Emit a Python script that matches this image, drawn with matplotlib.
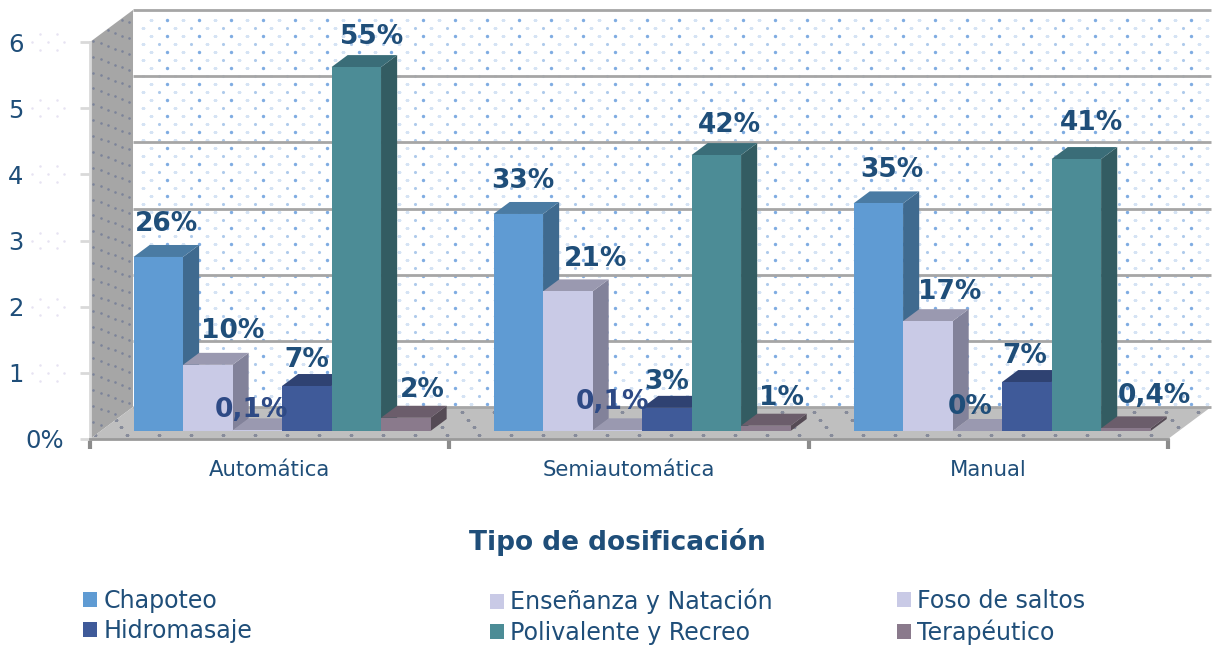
import numpy as np
import matplotlib
matplotlib.use('Agg')
import matplotlib.pyplot as plt
from matplotlib.patches import Polygon, Patch
from matplotlib.transforms import ScaledTranslation

# -----------------------------------------------
# -                    DATA                     -
# -----------------------------------------------
categories = ['Automática', 'Semiautomática', 'Manual']
series = ['Chapoteo', 'Enseñanza y Natación', 'Foso de saltos',
          'Hidromasaje', 'Polivalente y Recreo', 'Terapéutico']

chapoteo = [2.63, 3.28, 3.44]
ensenanza = [1.0, 2.11, 1.66]
foso = [0.01, 0.01, 0.0]
hidromasaje = [0.68, 0.35, 0.74]
polivalente = [5.5, 4.17, 4.11]
terapeutico = [0.2, 0.08, 0.04]
values = [chapoteo, ensenanza, foso, hidromasaje, polivalente, terapeutico]

labels = [['26%', '33%', '35%'], ['10%', '21%', '17%'], ['0,1%', '0,1%', '0%'],
          ['7%', '3%', '7%'], ['55%', '42%', '41%'], ['2%', '1%', '0,4%']]

ytick_labels = ['0%', '1', '2', '3', '4', '5', '6']

# -----------------------------------------------
# -                    STYLE                    -
# -----------------------------------------------
front = ['#5F9BD3', '#C9CAE6', '#C9CAE6', '#3F5A99', '#4C8C96', '#8A7A8C']
top = ['#4A7BA3', '#9A99B0', '#9A99B0', '#2F4272', '#3A6D78', '#6B5D6B']
side = ['#3F6A8F', '#82829A', '#82829A', '#2F4272', '#335C62', '#554B55']
text_col = '#1F4E79'

# label offsets from the bar's front top centre, in pixels
off_x = [[8, 5, 13], [25, 28, 22], [-6, -5, -7], [0, 0, -2], [15, 13, 15], [17, 16, 29]]
off_y = [[33, 33, 33], [34, 32, 29], [20, 28, 24], [26, 26, 26], [30, 30, 36], [28, 28, 32]]

PX_X = 359.3   # pixels per category
PX_Y = 66.2    # pixels per axis unit
DX = 43 / PX_X  # full depth of the floor
DY = 32 / PX_Y
D0, D1 = 0.25, 0.625  # bars depth span
BAR_W = 49.5 / PX_X
START = 32.75 / PX_X
STEP = 360 / PX_X  # distance between bar groups


def px_x(p):
    return (p - 90) / PX_X


def px_y(p):
    return (439 - p) / PX_Y


# -----------------------------------------------
# -                    PLOT                     -
# -----------------------------------------------
fig = plt.figure(figsize=(12.12, 6.45), dpi=100)
ax = fig.add_axes([90 / 1212, (645 - 439) / 645, 1078 / 1212, 397 / 645])
ax.set_xlim(0, 3)
ax.set_ylim(0, 6)
ax.patch.set_alpha(0)

# walls and floor
back = Polygon([(DX, DY), (3 + DX, DY), (3 + DX, 6 + DY), (DX, 6 + DY)], fc='white', ec='none', zorder=1, clip_on=False)
left = Polygon([(0, 0), (DX, DY), (DX, 6 + DY), (0, 6)], fc='#A6A6A6', ec='none', zorder=1, clip_on=False)
floor = Polygon([(0, 0), (3, 0), (3 + DX, DY), (DX, DY)], fc='#BFBFBF', ec='none', zorder=1, clip_on=False)
for p in (back, left, floor):
    ax.add_patch(p)

# dotted texture on the back wall
rows_a = px_y(np.arange(20, 432, 16))
rows_b = px_y(np.arange(28, 432, 16))
for art_x, art_y, col, sz, mk in [
    (px_x(np.arange(167, 1212, 32)), rows_a, '#7FACE2', 6, 'o'),
    (px_x(np.arange(151, 1212, 32)), rows_a, '#D5E3F4', 8, '_'),
    (px_x(np.arange(143, 1212, 32)), rows_b, '#D5E3F4', 8, '_'),
    (px_x(np.arange(159, 1212, 32)), rows_b, '#AECAEB', 5, 'o'),
]:
    xx, yy = np.meshgrid(art_x, art_y)
    d = ax.scatter(xx.ravel(), yy.ravel(), s=sz, c=col, marker=mk, linewidths=0.8 if mk == '_' else 0,
                   zorder=1.5, clip_on=True)
    d.set_clip_path(back)

# left wall dots follow its slant
wx, wy = np.meshgrid(np.arange(0.08, 1.0, 0.165), np.arange(-0.5, 6.5, 0.24))
wy = wy + (np.arange(wx.shape[1]) % 2) * 0.12
d = ax.scatter(wx.ravel() * DX, wy.ravel() + wx.ravel() * DY, s=3.5, c='#7C8499', linewidths=0, zorder=1.5, clip_on=True)
d.set_clip_path(left)

# floor dots
fx, fy = np.meshgrid(np.arange(0.0, 3.3, 32 / PX_X), np.arange(0.12, 1.0, 0.24))
fx = fx + fy * DX + (np.arange(fx.shape[0])[:, None] % 2) * 16 / PX_X
d = ax.scatter(fx.ravel(), fy.ravel() * DY, s=6, c='#868B9A', marker='_', linewidths=0.8, zorder=1.5, clip_on=True)
d.set_clip_path(floor)

# gridlines on the back wall
for v in range(7):
    ax.plot([DX, 3 + DX], [v + DY, v + DY], color='#A6A6A6', lw=2, zorder=1.8, clip_on=False, solid_capstyle='butt')

# bars
z = 3
for c in range(len(categories)):
    for s in range(len(series)):
        v = values[s][c]
        x0 = c * STEP + START + s * BAR_W + D0 * DX
        x1 = x0 + BAR_W
        base = D0 * DY
        ddx = (D1 - D0) * DX
        ddy = (D1 - D0) * DY
        ax.bar(x0, v, BAR_W, bottom=base, align='edge', color=front[s], linewidth=0, zorder=z + 2, clip_on=False)
        ax.add_patch(Polygon([(x1, base), (x1 + ddx, base + ddy), (x1 + ddx, base + v + ddy), (x1, base + v)],
                             fc=side[s], ec='none', zorder=z, clip_on=False))
        ax.add_patch(Polygon([(x0, base + v), (x1, base + v), (x1 + ddx, base + v + ddy), (x0 + ddx, base + v + ddy)],
                             fc=top[s], ec='none', zorder=z + 1, clip_on=False))
        z += 3

# value labels go above everything
for c in range(len(categories)):
    for s in range(len(series)):
        v = values[s][c]
        x0 = c * STEP + START + s * BAR_W + D0 * DX
        col = '#2E4A85' if labels[s][c] == '0,1%' else text_col
        ax.annotate(labels[s][c], (x0 + BAR_W / 2, v + D0 * DY),
                    xytext=(off_x[s][c], off_y[s][c]), textcoords='offset pixels',
                    ha='center', va='center', fontsize=19, fontweight='bold', color=col,
                    zorder=200, annotation_clip=False)

# axes
for name in ('top', 'right'):
    ax.spines[name].set_visible(False)
ax.spines['left'].set_color('#D9D9D9')
ax.spines['left'].set_linewidth(2)
ax.spines['bottom'].set_color('#9A9A9A')
ax.spines['bottom'].set_linewidth(2)
ax.spines['left'].set_zorder(1.9)
ax.spines['bottom'].set_zorder(1.9)

ax.set_yticks(range(7))
ax.set_yticklabels(ytick_labels, fontsize=17.5, color=text_col)
ax.tick_params(axis='y', length=7, width=2, color='#D9D9D9', pad=12)
for t, lab in zip(ax.get_yticklabels(), ytick_labels):
    if lab != '0%':
        t.set_transform(t.get_transform() + ScaledTranslation(-0.40, 0.0, fig.dpi_scale_trans))

ax.set_xticks(range(4))
ax.set_xticklabels([])
ax.tick_params(axis='x', which='major', length=7, width=3, color='#8C8C8C')
ax.set_xticks(np.arange(3) + 0.5, minor=True)
ax.set_xticklabels(categories, minor=True, fontsize=15.3, color=text_col)
ax.tick_params(axis='x', which='minor', length=0, pad=15)

ax.set_xlabel('Tipo de dosificación', fontsize=19, fontweight='bold', color=text_col, x=0.489, labelpad=34.5)

# faint dot patch beside the axis numbers
for v in range(1, 7):
    for dx_px, dy_px in [(32, 0), (48, 0), (64, 0), (40, -8), (57, -8), (40, 8), (57, 8)]:
        ax.plot(px_x(dx_px), v + dy_px / PX_Y, 'o', ms=1.8, mew=0, color='#E6E3F2', clip_on=False, zorder=0.5)

# legend, one per column so the columns stay at fixed places
handles = [Patch(fc=front[i], ec='none') for i in range(len(series))]
for col, x_px in enumerate([83, 490, 897]):
    leg = fig.legend([handles[col], handles[col + 3]], [series[col], series[col + 3]],
                     loc='upper left', bbox_to_anchor=(x_px / 1212, 1 - 589 / 645), ncol=1,
                     frameon=False, fontsize=17.1, labelcolor=text_col, handlelength=0.6, handleheight=0.6,
                     handletextpad=0.25, labelspacing=0.265, borderpad=0, borderaxespad=0)

fig.savefig('out.png', dpi=100)
